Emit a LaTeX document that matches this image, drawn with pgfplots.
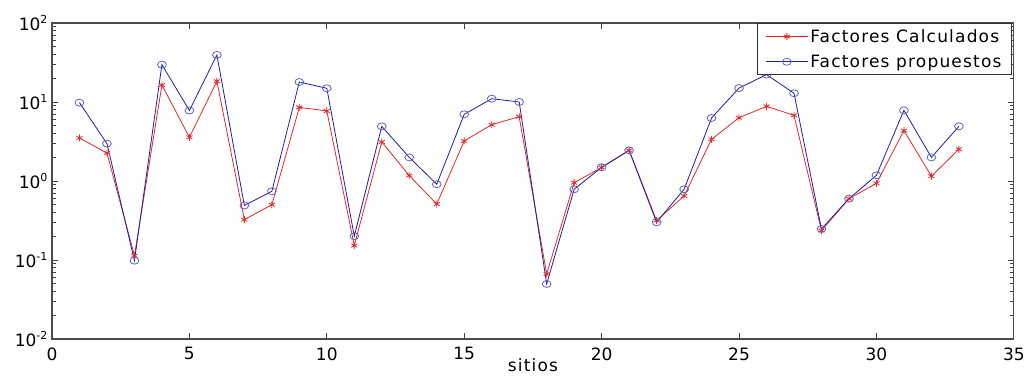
\documentclass[border=0pt]{standalone}
\usepackage{fontspec}
\setmainfont{DejaVu Sans}
\newfontfamily\legfont[LetterSpace=7]{DejaVu Sans}
\usepackage{pgfplots}
\pgfplotsset{compat=1.18}
\definecolor{calc}{RGB}{228,40,40}
\definecolor{prop}{RGB}{30,30,165}
\newcommand{\dec}[1]{10\raisebox{0.8ex}{\fontsize{11}{11}\selectfont #1}}

\begin{document}
\begin{tikzpicture}
\begin{axis}[
  scale only axis, width=962pt, height=316pt,
  xmin=0, xmax=35, ymin=0.01, ymax=100, ymode=log,
  xtick={0,5,...,35},
  ytick={0.01,0.1,1,10,100},
  yticklabels={\dec{-2},\dec{-1},\dec{0},\dec{1},\dec{2}},
  tick align=inside, xtick pos=both, ytick pos=both,
  major tick length=6pt, minor tick length=4pt,
  axis line style={black!70, line width=1.2pt},
  tick style={black!75, line width=0.8pt},
  ticklabel style={font=\fontsize{17}{17}\selectfont},
  /pgf/number format/assume math mode=true,
  xticklabel style={yshift=-5pt},
  yticklabel style={xshift=-1pt},
  xlabel={sitios},
  xlabel style={at={(axis description cs:0.5,0)}, anchor=base, yshift=-33pt,
    font=\legfont\fontsize{17}{17}\selectfont},
  legend style={at={(1,1)}, anchor=north east, xshift=-2pt, draw=black!80,
    line width=0.8pt, font=\legfont\fontsize{17}{23}\selectfont,
    inner xsep=8pt, inner ysep=4pt, row sep=7pt, cells={anchor=west}},
  legend image code/.code={
    \draw[#1, mark=none] (0pt,0pt) -- (42pt,0pt);
    \path[#1] plot coordinates {(21pt,0pt)};},
]
\addplot[calc, line width=0.8pt, mark=asterisk, mark size=3.5pt,
  mark options={line width=0.8pt}] coordinates {
  (1,3.5) (2,2.26) (3,0.113) (4,16.4) (5,3.57) (6,18.3) (7,0.324) (8,0.50)
  (9,8.56) (10,7.69) (11,0.152) (12,3.12) (13,1.17) (14,0.51) (15,3.21)
  (16,5.16) (17,6.52) (18,0.0665) (19,0.95) (20,1.48) (21,2.44) (22,0.315)
  (23,0.646) (24,3.37) (25,6.32) (26,8.81) (27,6.78) (28,0.235) (29,0.597)
  (30,0.935) (31,4.34) (32,1.15) (33,2.52)};
\addlegendentry{Factores Calculados}
\addplot[prop, line width=0.8pt, mark=o, mark size=3.5pt,
  mark options={line width=0.8pt, xscale=1.25, draw=prop!70!white}] coordinates {
  (1,9.8) (2,2.97) (3,0.098) (4,29.7) (5,7.8) (6,39.4) (7,0.49) (8,0.74)
  (9,17.9) (10,14.9) (11,0.20) (12,4.92) (13,1.99) (14,0.91) (15,6.98)
  (16,11.0) (17,10.0) (18,0.0497) (19,0.785) (20,1.49) (21,2.44) (22,0.30)
  (23,0.785) (24,6.27) (25,15.0) (26,22.2) (27,12.9) (28,0.247) (29,0.597)
  (30,1.18) (31,7.84) (32,1.99) (33,4.92)};
\addlegendentry{Factores propuestos}
\end{axis}
\path (current axis.south west) ++(-52pt,-35pt) rectangle ++(1028pt,374pt);
\end{tikzpicture}
\end{document}
